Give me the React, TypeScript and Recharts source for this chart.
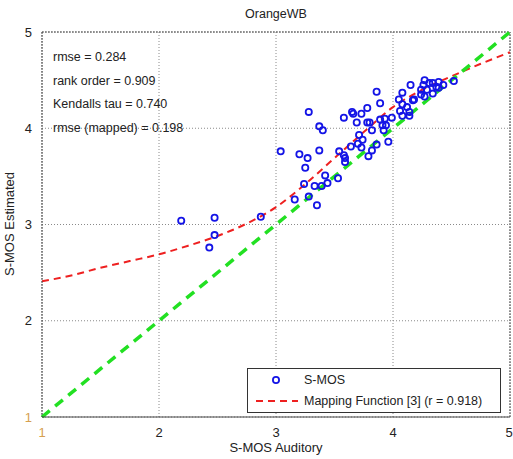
import React from 'react'
import {
  ComposedChart,
  Scatter,
  Line,
  XAxis,
  YAxis,
  CartesianGrid,
  ReferenceLine,
} from 'recharts'

// S-MOS points (auditory vs estimated)
const auditory = [
  2.19, 2.475, 2.475, 2.43, 2.87, 3.04, 3.28, 3.2, 3.27, 3.25, 3.37, 3.37, 3.4, 3.24, 3.33,
  3.39, 3.44, 3.42, 3.53, 3.28, 3.16, 3.35, 3.54, 3.58, 3.59, 3.59, 3.58, 3.65, 3.66, 3.73,
  3.78, 3.69, 3.64, 3.7, 3.74, 3.73, 3.71, 3.79, 3.82, 3.86, 3.78, 3.8, 3.82, 3.86, 3.89,
  3.89, 3.93, 3.91, 3.94, 3.92, 3.96, 3.99, 4.05, 4.08, 4.08, 4.06, 4.12, 4.08, 4.14, 4.15,
  4.17, 4.18, 4.14, 4.24, 4.26, 4.27, 4.29, 4.34, 4.37, 4.39, 4.43, 4.31, 4.52, 4.24, 4.34,
  4.39, 4.27,
]
const estimated = [
  3.04, 3.07, 2.89, 2.76, 3.08, 3.76, 4.17, 3.73, 3.69, 3.59, 3.77, 4.02, 3.98, 3.42, 3.4,
  3.4, 3.43, 3.51, 3.48, 3.29, 3.26, 3.2, 3.76, 3.72, 3.69, 3.65, 4.11, 4.17, 4.15, 4.15,
  4.21, 4.06, 3.81, 3.84, 3.88, 3.8, 3.93, 3.71, 3.77, 3.83, 4.06, 4.06, 3.98, 4.38, 4.26,
  4.09, 4.1, 4.03, 4.03, 3.98, 3.86, 4.11, 4.3, 4.37, 4.25, 4.18, 4.22, 4.13, 4.13, 4.45,
  4.29, 4.3, 4.17, 4.35, 4.45, 4.33, 4.4, 4.47, 4.43, 4.48, 4.45, 4.47, 4.49, 4.4, 4.36,
  4.42, 4.5,
]

// mapping function [3], read at even steps
const mapX = [1, 1.25, 1.5, 1.75, 2, 2.25, 2.5, 2.75, 3, 3.25, 3.5, 3.75, 4, 4.25, 4.5, 4.75, 5]
const mapY = [2.41, 2.47, 2.55, 2.62, 2.69, 2.78, 2.88, 3.01, 3.18, 3.42, 3.69, 3.96, 4.22, 4.4, 4.54, 4.67, 4.79]

const identityX = [1, 5]
const identityY = [1, 5]

const ticks = [1, 2, 3, 4, 5]

const stats = [
  'rmse = 0.284',
  'rank order = 0.909',
  'Kendalls tau = 0.740',
  'rmse (mapped) = 0.198',
]

const scatterData = auditory.map((x, i) => ({ x, y: estimated[i] }))
const mapData = mapX.map((x, i) => ({ x, y: mapY[i] }))
const identityData = identityX.map((x, i) => ({ x, y: identityY[i] }))

const FONT = '"Liberation Sans", Arial, sans-serif'
const colors = {
  blue: '#1414e6',
  red: '#ee2020',
  green: '#22e022',
  grid: '#8a8a8a',
  axis: '#444',
  text: '#222',
  one: '#d6a050',
}

const XTick = (props: any) => {
  const { x, y, payload } = props
  return (
    <text x={x} y={y} dy="0.71em" textAnchor="middle" fontSize={13} fontFamily={FONT}
      fill={payload.value === 1 ? colors.one : colors.text}>
      {payload.value}
    </text>
  )
}

const YTick = (props: any) => {
  const { x, y, payload } = props
  return (
    <text x={x} y={y} dy="0.355em" textAnchor="end" fontSize={13} fontFamily={FONT}
      fill={payload.value === 1 ? colors.one : colors.text}>
      {payload.value}
    </text>
  )
}

const Ring = (props: any) => (
  <circle cx={props.cx} cy={props.cy} r={3.1} fill="none" stroke={colors.blue} strokeWidth={1.8} />
)

export default function App() {
  return (
    <div style={{ position: 'absolute', left: 0, top: 0, width: 513, height: 459, background: '#fff', fontFamily: FONT }}>
      <ComposedChart width={513} height={459} margin={{ top: 32, right: 3, bottom: 0, left: 0 }}>
        <CartesianGrid strokeDasharray="1 2" stroke={colors.grid} />
        <XAxis
          type="number"
          dataKey="x"
          domain={[1, 5]}
          ticks={ticks}
          height={42}
          tickLine={false}
          tickMargin={5}
          axisLine={{ stroke: colors.axis }}
          tick={<XTick />}
        />
        <YAxis
          type="number"
          dataKey="y"
          domain={[1, 5]}
          ticks={ticks}
          width={42}
          tickLine={false}
          tickMargin={4}
          axisLine={{ stroke: colors.axis, strokeDasharray: '2 1' }}
          tick={<YTick />}
        />
        <ReferenceLine y={5} stroke="#555" strokeDasharray="2 1" />
        <ReferenceLine x={5} stroke="#555" strokeDasharray="2 1" />
        <Scatter data={scatterData} dataKey="y" shape={<Ring />} isAnimationActive={false} />
        <Line data={mapData} dataKey="y" type="monotone" stroke={colors.red} strokeWidth={2}
          strokeDasharray="7 5" dot={false} activeDot={false} isAnimationActive={false} />
        <Line data={identityData} dataKey="y" type="linear" stroke={colors.green} strokeWidth={3.5}
          strokeDasharray="10 7" dot={false} activeDot={false} isAnimationActive={false} />
      </ComposedChart>

      {/* title */}
      <div style={{ position: 'absolute', left: 176, width: 200, top: 7, textAlign: 'center', fontSize: 12.5, color: colors.text }}>
        OrangeWB
      </div>

      {/* axis labels */}
      <div style={{ position: 'absolute', left: 176, width: 200, top: 440, textAlign: 'center', fontSize: 13, color: colors.text }}>
        S-MOS Auditory
      </div>
      <div style={{
        position: 'absolute', left: 10, top: 224, width: 200, marginLeft: -100, marginTop: -8,
        textAlign: 'center', fontSize: 13, color: colors.text, transform: 'rotate(-90deg)', lineHeight: '16px',
      }}>
        S-MOS Estimated
      </div>

      {/* stats */}
      {stats.map((s, i) => (
        <div key={s} style={{ position: 'absolute', left: 53, top: 49 + i * 23.6, fontSize: 12.5, lineHeight: '16px', color: colors.text, whiteSpace: 'nowrap' }}>
          {s}
        </div>
      ))}

      {/* legend */}
      <div style={{ position: 'absolute', left: 247, top: 368, width: 252, height: 43, border: '1px solid #333', background: '#fff' }}>
        <svg width={60} height={43} style={{ position: 'absolute', left: 0, top: 0 }}>
          <circle cx={28} cy={11} r={3.1} fill="none" stroke={colors.blue} strokeWidth={1.8} />
          <line x1={8} x2={50} y1={32} y2={32} stroke={colors.red} strokeWidth={2} strokeDasharray="7 5" />
        </svg>
        <div style={{ position: 'absolute', left: 56, top: 3, fontSize: 12.5, lineHeight: '16px', color: colors.text }}>S-MOS</div>
        <div style={{ position: 'absolute', left: 56, top: 24, fontSize: 12.5, lineHeight: '16px', color: colors.text, whiteSpace: 'nowrap' }}>
          Mapping Function [3] (r = 0.918)
        </div>
      </div>
    </div>
  )
}
